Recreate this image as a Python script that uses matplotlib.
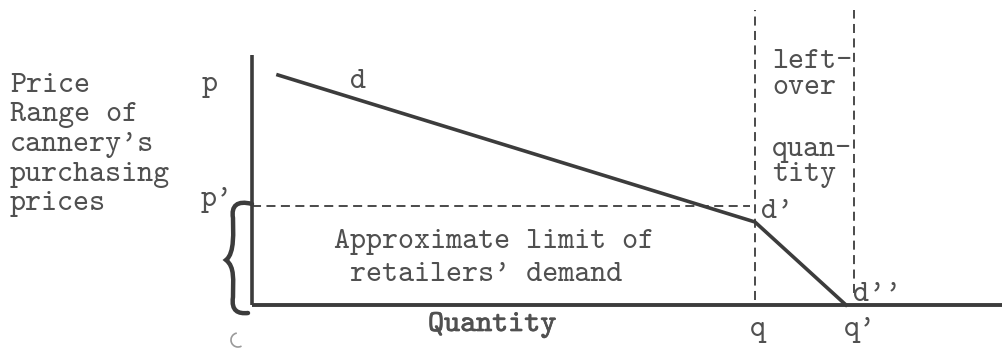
import matplotlib
matplotlib.use("Agg")
import matplotlib.pyplot as plt
import matplotlib.patheffects as pe
from matplotlib.path import Path
from matplotlib.patches import PathPatch, Arc

# Kinked demand curve for canned goods (quantity, price units)
demand_q = [26, 503, 594]
demand_p = [230, 83, 0]

p_top = 220          # price p
p_limit = 99         # price p'
q_limit = 503        # quantity q
q_max = 602          # quantity q'
q_axis_end = 751
p_axis_end = 250

INK = "#3c3c3c"
TXT = "#505050"
FONT = "cmtt10"
FS = 22

fig = plt.figure(figsize=(10.03, 3.58), dpi=100)
ax = fig.add_axes([0, 0, 1, 1])
ax.set_xlim(-252, 751)
ax.set_ylim(-53, 305)
ax.axis("off")

# axes
ax.plot([0, 0], [0, p_axis_end], color=INK, lw=2.6, solid_capstyle="butt")
ax.plot([0, q_axis_end], [0, 0], color=INK, lw=2.8, solid_capstyle="butt")

# demand curve d - d' - d''
ax.plot(demand_q, demand_p, color=INK, lw=2.6, solid_joinstyle="round")

# p' guide line and the two quantity markers
ax.plot([0, q_limit - 5], [p_limit, p_limit], color=INK, lw=1.3,
        dashes=(5, 3))
ax.plot([q_limit, q_limit], [5, 295], color=INK, lw=1.3, dashes=(5, 3))
ax.plot([q_max, q_max], [12, 295], color=INK, lw=1.3, dashes=(5, 3))

# curly brace marking the purchasing price range (0 .. p')
bx = -19
brace = Path(
    [(0, p_limit + 2), (bx + 4, p_limit + 6), (bx - 2, p_limit), (bx, p_limit - 12),
     (bx, p_limit - 25), (bx + 2, 52), (-26, 45),
     (bx + 2, 38), (bx, 25), (bx, 8),
     (bx - 2, -6), (bx + 5, -9), (-4, -8)],
    [Path.MOVETO, Path.CURVE4, Path.CURVE4, Path.CURVE4,
     Path.CURVE4, Path.CURVE4, Path.CURVE4,
     Path.CURVE4, Path.CURVE4, Path.CURVE4,
     Path.CURVE4, Path.CURVE4, Path.CURVE4])
ax.add_patch(PathPatch(brace, fill=False, edgecolor=INK, lw=3.2,
                       capstyle="round"))

# faint origin mark
ax.add_patch(Arc((-14, -35), 14, 14, theta1=100, theta2=300,
                 color="#9a9a9a", lw=1.2))

# labels
txt = dict(family=FONT, fontsize=FS, color=TXT, va="center")
side = ["Price", "Range of", "cannery's", "purchasing", "prices"]
for i, s in enumerate(side):
    ax.text(-242, 219 - 29.5 * i, s, ha="left", **txt)

ax.text(-42, p_top, "p", ha="center", **txt)
ax.text(-35, p_limit + 6, "p'", ha="center", **txt)
ax.text(106, 223, "d", ha="center", **txt)
ax.text(525, 93, "d'", ha="center", **txt)
ax.text(625, 10, "d''", ha="center", **txt)
ax.text(506, -25, "q", ha="center", **txt)
ax.text(608, -25, "q'", ha="center", **txt)

ax.text(520, 243, "left-", ha="left", **txt)
ax.text(520, 217, "over", ha="left", **txt)
ax.text(520, 155, "quan-", ha="left", **txt)
ax.text(520, 130, "tity", ha="left", **txt)

ax.text(242, 63, "Approximate limit of", ha="center", **txt)
ax.text(234, 30, "retailers' demand", ha="center", **txt)
ax.text(240, -20, "Quantity", ha="center",
        path_effects=[pe.withStroke(linewidth=0.5, foreground=TXT)], **txt)

fig.savefig("out.png", dpi=100, facecolor="white")
